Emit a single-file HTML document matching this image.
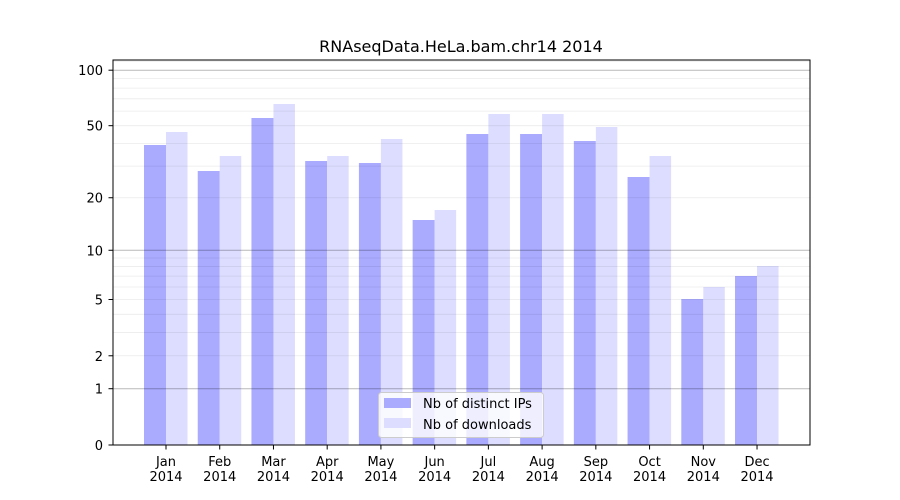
<!DOCTYPE html>
<html><head><meta charset="utf-8"><style>body{margin:0;background:#fff}svg{display:block;font-family:"DejaVu Sans","Liberation Sans",sans-serif}</style></head>
<body>
<svg id="s" width="900" height="500" xmlns="http://www.w3.org/2000/svg">
<rect width="900" height="500" fill="#fff"/>
<g id="bars"></g>
<g id="grid"></g>
<rect x="113" y="60" width="697" height="385" fill="none" stroke="#000" stroke-width="1"/>
<g id="ticks" font-size="13" fill="#000"></g>
<text x="461" y="52" text-anchor="middle" font-size="16">RNAseqData.HeLa.bam.chr14 2014</text>
<g>
<rect x="378.5" y="392.5" width="165" height="45" rx="3" fill="#fff" fill-opacity="0.8" stroke="#ccc"/>
<rect x="384" y="398" width="27" height="10" fill="#aaaaff"/>
<rect x="384" y="418" width="27" height="10" fill="#ddddff"/>
<text x="423" y="408" font-size="13">Nb of distinct IPs</text>
<text x="423" y="429" font-size="13">Nb of downloads</text>
</g>
</svg>
<script>
const ns="http://www.w3.org/2000/svg";
function el(p,t,a,txt){const e=document.createElementNS(ns,t);for(const k in a)e.setAttribute(k,a[k]);if(txt!==undefined)e.textContent=txt;document.getElementById(p).appendChild(e);return e;}
const Y=v=>445-187*Math.log10(1+v);
const minors=[2,3,4,5,6,7,8,9,20,30,40,50,60,70,80,90];
minors.forEach(v=>{const y=Y(v);el("grid","line",{x1:113,x2:810,y1:y,y2:y,stroke:"#000","stroke-opacity":0.08,"stroke-width":0.8});});
el("grid","line",{x1:113,x2:810,y1:Y(100)-9,y2:Y(100)-9,stroke:"#000","stroke-opacity":0.08,"stroke-width":0.8});
[1,10,100].forEach(v=>{const y=Y(v);el("grid","line",{x1:113,x2:810,y1:y,y2:y,stroke:"#000","stroke-opacity":0.28,"stroke-width":1});});
const months=["Jan","Feb","Mar","Apr","May","Jun","Jul","Aug","Sep","Oct","Nov","Dec"];
const ip=[145,171,118,161,163,220,134,134,141,177,299,276];
const dl=[132,156,104,156,139,210,114,114,127,156,287,266];
months.forEach((m,i)=>{const c=166+i*53.73;
el("bars","rect",{x:c-22,y:ip[i],width:22,height:445-ip[i],fill:"#aaaaff"});
el("bars","rect",{x:c,y:dl[i],width:21.5,height:445-dl[i],fill:"#ddddff"});
el("ticks","line",{x1:c,x2:c,y1:445,y2:449.5,stroke:"#000"});
el("ticks","text",{x:c,y:466,"text-anchor":"middle"},m);
el("ticks","text",{x:c,y:481,"text-anchor":"middle"},"2014");
});
[0,1,2,5,10,20,50,100].forEach(v=>{const y=Y(v);
el("ticks","line",{x1:108.5,x2:113,y1:y,y2:y,stroke:"#000"});
el("ticks","text",{x:103,y:y+5,"text-anchor":"end"},String(v));});
</script>
</body></html>
